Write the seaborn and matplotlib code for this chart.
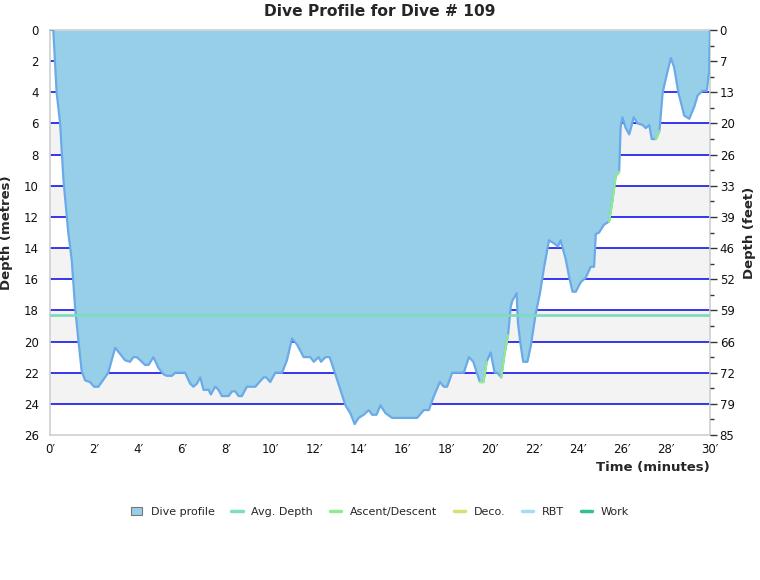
#!/usr/bin/env python3

import matplotlib
matplotlib.use("Agg")
import matplotlib.pyplot as plt
from matplotlib.lines import Line2D
from matplotlib.patches import Patch
import seaborn as sns
import pandas as pd

# ===================== DATOS =====================

# tiempo (minutos) y profundidad (metros) del perfil
time_min = [
    0.00, 0.15, 0.30, 0.46, 0.61, 0.83, 0.99, 1.14, 1.29, 1.44, 1.60, 1.82,
    2.00, 2.20, 2.35, 2.65, 2.96, 3.19, 3.41, 3.64, 3.79, 3.94, 4.10, 4.32,
    4.48, 4.70, 4.93, 5.16, 5.31, 5.54, 5.69, 6.14, 6.37, 6.52, 6.68, 6.83,
    6.98, 7.21, 7.31, 7.51, 7.66, 7.81, 8.12, 8.27, 8.42, 8.57, 8.72, 8.95,
    9.33, 9.71, 9.83, 10.01, 10.24, 10.55, 10.77, 11.00, 11.23, 11.53, 11.83,
    11.99, 12.21, 12.32, 12.52, 12.71, 12.97, 13.20, 13.43, 13.65, 13.85,
    14.03, 14.26, 14.49, 14.64, 14.84, 15.02, 15.25, 15.55, 16.69, 16.99,
    17.22, 17.45, 17.72, 17.90, 18.05, 18.28, 18.81, 19.04, 19.24, 19.54,
    19.70, 19.85, 20.03, 20.21, 20.33, 20.51, 20.66, 20.82, 20.94, 21.01,
    21.21, 21.27, 21.39, 21.51, 21.70, 21.85, 22.08, 22.27, 22.45, 22.68,
    22.91, 23.09, 23.21, 23.44, 23.59, 23.75, 23.90, 24.12, 24.35, 24.58,
    24.73, 24.81, 24.96, 25.18, 25.41, 25.56, 25.71, 25.87, 25.94, 26.02,
    26.17, 26.33, 26.53, 26.71, 26.94, 27.08, 27.24, 27.35, 27.54, 27.70,
    27.85, 27.93, 28.08, 28.22, 28.37, 28.56, 28.83, 29.06, 29.29, 29.44,
    29.66, 29.86, 29.96, 30.00,
]
depth_m = [
    0.0, 0.0, 4.0, 6.0, 9.6, 13.0, 14.8, 17.8, 19.9, 21.9, 22.5, 22.6,
    22.9, 22.9, 22.6, 22.0, 20.4, 20.8, 21.2, 21.3, 21.0, 21.0, 21.2, 21.5,
    21.5, 21.0, 21.7, 22.1, 22.2, 22.2, 22.0, 22.0, 22.7, 22.9, 22.7, 22.3,
    23.1, 23.1, 23.4, 22.9, 23.1, 23.5, 23.5, 23.2, 23.2, 23.5, 23.5, 22.9,
    22.9, 22.3, 22.3, 22.6, 22.0, 22.0, 21.2, 19.8, 20.2, 21.0, 21.0,
    21.3, 21.0, 21.3, 21.0, 21.0, 22.1, 23.1, 24.1, 24.6, 25.3,
    24.9, 24.7, 24.4, 24.7, 24.7, 24.1, 24.6, 24.9, 24.9, 24.4,
    24.4, 23.5, 22.6, 22.9, 22.9, 22.0, 22.0, 21.0, 21.3, 22.6,
    22.6, 21.3, 20.7, 22.0, 22.0, 22.3, 20.8, 19.6, 17.8, 17.4,
    16.9, 18.8, 20.2, 21.3, 21.3, 20.3, 18.2, 16.9, 15.3, 13.5,
    13.7, 13.9, 13.5, 14.7, 15.8, 16.8, 16.8, 16.2, 15.9, 15.2,
    15.2, 13.1, 13.0, 12.5, 12.3, 11.0, 9.4, 9.1, 6.2, 5.6,
    6.3, 6.7, 5.6, 6.0, 6.1, 6.3, 6.1, 7.0, 7.0, 6.5,
    4.0, 3.5, 2.6, 1.8, 2.4, 4.0, 5.5, 5.7, 4.9, 4.2,
    3.9, 3.9, 2.6, 0.0,
]

avg_depth_m = 18.3

# tramos de ascenso/descenso (inicio, fin) en minutos
ascent_start = [19.54, 20.51, 25.41, 27.54]
ascent_end = [19.85, 20.82, 25.87, 27.70]

# ejes
x_ticks = [0, 2, 4, 6, 8, 10, 12, 14, 16, 18, 20, 22, 24, 26, 28, 30]
y_ticks = [0, 2, 4, 6, 8, 10, 12, 14, 16, 18, 20, 22, 24, 26]
feet_labels = ["0", "7", "13", "20", "26", "33", "39", "46",
               "52", "59", "66", "72", "79", "85"]
band_starts = [6, 10, 14, 18, 22]

legend_labels = ["Dive profile", "Avg. Depth", "Ascent/Descent",
                 "Deco.", "RBT", "Work"]

# ===================== COLORES =====================

FILL = "#97cfe9"
EDGE = "#6aaae8"
AVG = "#7fdcbc"
ASC = "#90ea90"
DECO = "#d7e070"
RBT = "#a6dcf5"
WORK = "#30bf8e"
GRID = "#0000ee"
BAND = "#f3f3f3"
FRAME = "#d0d0d0"

# ===================== FIGURA =====================

sns.set_style("white")
plt.rcParams["font.family"] = ["DejaVu Sans"]
plt.rcParams["axes.grid"] = False

df = pd.DataFrame({"time": time_min, "depth": depth_m})

fig = plt.figure(figsize=(7.6, 5.8), dpi=100)
ax = fig.add_axes([50 / 760, 145 / 580, 660 / 760, 405 / 580])

# zona bajo el perfil: recorte para bandas y rejilla
below = ax.fill_between(df["time"], df["depth"], 26, facecolor="none", lw=0)
clip = below.get_paths()[0]
below.remove()

for b in band_starts:
    band = ax.axhspan(b, b + 2, color=BAND, lw=0, zorder=0.2)
    band.set_clip_path(clip, ax.transData)
for y in y_ticks[1:-1]:
    gl = ax.axhline(y, color=GRID, lw=1.1, zorder=0.5)
    gl.set_clip_path(clip, ax.transData)

# perfil
ax.fill_between(df["time"], 0, df["depth"], color=FILL, lw=0, zorder=2)
sns.lineplot(data=df, x="time", y="depth", ax=ax, color=EDGE, lw=1.6,
             sort=False, estimator=None, zorder=3)

# tramos de ascenso
for t0, t1 in zip(ascent_start, ascent_end):
    seg = df[(df["time"] >= t0) & (df["time"] <= t1)]
    ax.plot(seg["time"], seg["depth"], color=ASC, lw=1.6, zorder=4)

# profundidad media
ax.axhline(avg_depth_m, color=AVG, lw=2, zorder=5)

ax.set_xlim(0, 30)
ax.set_ylim(26, 0)
ax.set_xticks(x_ticks)
ax.set_xticklabels([f"{t}\u2032" for t in x_ticks], fontsize=8.5, color="#111111")
ax.set_yticks(y_ticks)
ax.set_yticklabels([str(y) for y in y_ticks], fontsize=8.5, color="#111111")
ax.tick_params(axis="x", length=0, pad=6)
ax.tick_params(axis="y", length=0, pad=8)
ax.set_xlabel("Time (minutes)", loc="right", fontsize=9.5,
              fontweight="bold", labelpad=3)
ax.set_ylabel("Depth (metres)", fontsize=9.5, fontweight="bold", labelpad=8)
ax.set_title("Dive Profile for Dive # 109", fontsize=11.2, fontweight="bold",
             pad=10)
for s in ax.spines.values():
    s.set_color(FRAME)
    s.set_linewidth(1.2)
ax.grid(False)

# eje derecho en pies
ax2 = ax.twinx()
ax2.set_ylim(26, 0)
ax2.set_yticks(y_ticks)
ax2.set_yticklabels(feet_labels, fontsize=8.5, color="#111111")
ax2.set_yticks([y + 1 for y in y_ticks[:-1]], minor=True)
ax2.tick_params(axis="y", which="major", length=5, width=1, pad=2,
                color="#333333")
ax2.tick_params(axis="y", which="minor", length=3, width=1, color="#333333")
ax2.set_ylabel("Depth (feet)", fontsize=9.5, fontweight="bold", labelpad=6)
for s in ax2.spines.values():
    s.set_visible(False)
ax2.grid(False)
ax.grid(False)

# leyenda
handles = [
    Patch(facecolor=FILL, edgecolor="#777777", lw=0.8),
    Line2D([0], [0], color=AVG, lw=2.5),
    Line2D([0], [0], color=ASC, lw=2.5),
    Line2D([0], [0], color=DECO, lw=2.5),
    Line2D([0], [0], color=RBT, lw=2.5),
    Line2D([0], [0], color=WORK, lw=2.5),
]
fig.legend(handles, legend_labels, loc="center", ncol=6, frameon=False,
           bbox_to_anchor=(0.5, 1 - 512 / 580), fontsize=8,
           handlelength=1.0, handleheight=0.8, columnspacing=1.5,
           handletextpad=0.8)

fig.savefig("out.png", dpi=100)
plt.close("all")
